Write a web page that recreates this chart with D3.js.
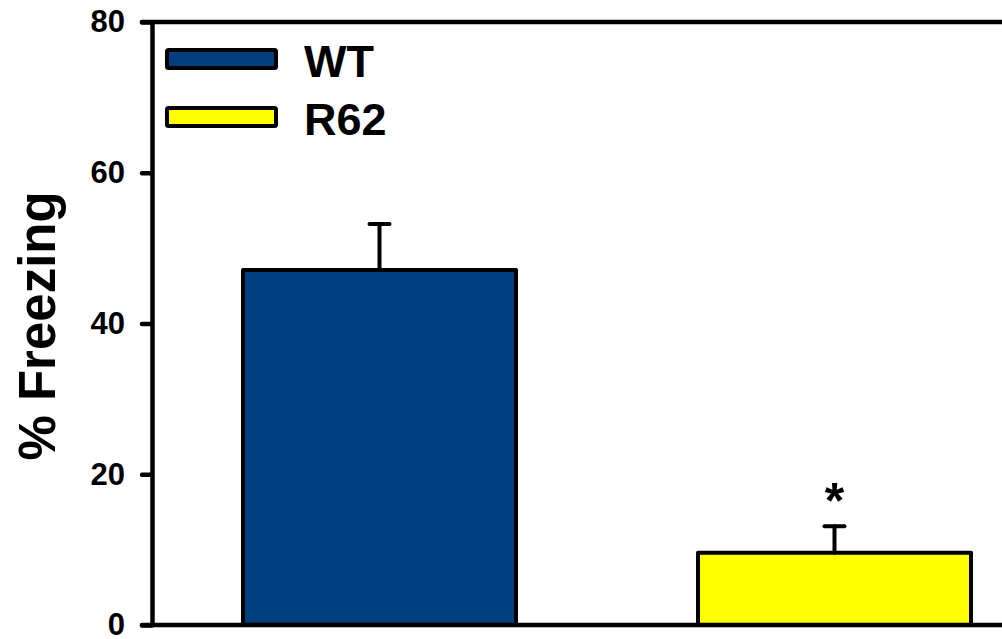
<!DOCTYPE html>
<html>
<head>
<meta charset="utf-8">
<script src="https://cdn.jsdelivr.net/npm/d3@7"></script>
<style>
  html, body { margin: 0; padding: 0; background: #fff; }
  svg { display: block; }
  text { font-family: "Liberation Sans", Arial, sans-serif; font-weight: bold; fill: #000; }
</style>
</head>
<body>
<svg id="chart" width="1002" height="639"></svg>
<script>
// Fear conditioning: percent time freezing by genotype (mean ± SEM)
const groups = ["WT", "R62"];
const meanFreezing = [47.1, 9.6];
const semFreezing = [6.1, 3.5];
const significance = ["", "*"];
const barColors = ["#003f7f", "#ffff00"];
const yTicks = [0, 20, 40, 60, 80];
const yLabel = "% Freezing";

(function () {
  const svg = d3.select("#chart");
  const plotLeft = 152, plotRight = 1062, plotTop = 22, plotBottom = 625;
  const lineW = 4.5;

  const y = d3.scaleLinear().domain([0, 80]).range([plotBottom, plotTop]);
  const x = d3.scaleBand().domain(groups).range([plotLeft, plotRight])
    .paddingInner(0.4).paddingOuter(0.2);

  const rows = groups.map((g, i) => ({
    group: g, mean: meanFreezing[i], sem: semFreezing[i],
    color: barColors[i], mark: significance[i]
  }));

  // Bars
  svg.append("g").selectAll("rect").data(rows).join("rect")
    .attr("x", d => x(d.group))
    .attr("y", d => y(d.mean))
    .attr("width", x.bandwidth())
    .attr("height", d => y(0) - y(d.mean))
    .attr("fill", d => d.color)
    .attr("stroke", "#000")
    .attr("stroke-width", 4)
    .attr("stroke-linejoin", "round");

  // Upper error bars
  const err = svg.append("g").attr("stroke", "#000").attr("stroke-width", 4)
    .attr("stroke-linecap", "round");
  rows.forEach(d => {
    const cx = x(d.group) + x.bandwidth() / 2;
    err.append("line").attr("x1", cx).attr("x2", cx)
      .attr("y1", y(d.mean)).attr("y2", y(d.mean + d.sem));
    err.append("line").attr("x1", cx - 10).attr("x2", cx + 10)
      .attr("y1", y(d.mean + d.sem)).attr("y2", y(d.mean + d.sem));
  });

  // Significance markers
  svg.append("g").selectAll("text").data(rows.filter(d => d.mark)).join("text")
    .attr("x", d => x(d.group) + x.bandwidth() / 2)
    .attr("y", d => y(d.mean + d.sem) - 8)
    .attr("text-anchor", "middle")
    .attr("font-size", 50)
    .text(d => d.mark);

  // Frame: top and bottom lines
  const frame = svg.append("g").attr("stroke", "#000").attr("stroke-width", lineW)
    .attr("stroke-linecap", "round");
  frame.append("line").attr("x1", plotLeft - 10).attr("x2", plotRight)
    .attr("y1", y(80)).attr("y2", y(80));
  frame.append("line").attr("x1", plotLeft - 10).attr("x2", plotRight)
    .attr("y1", y(0)).attr("y2", y(0));

  // Y axis
  const yAxis = svg.append("g").attr("transform", `translate(${plotLeft},0)`)
    .call(d3.axisLeft(y).tickValues(yTicks).tickSize(10).tickSizeOuter(0).tickPadding(17));
  yAxis.select(".domain").attr("stroke", "#000").attr("stroke-width", lineW);
  yAxis.selectAll(".tick line").attr("stroke", "#000").attr("stroke-width", lineW)
    .attr("stroke-linecap", "round");
  yAxis.selectAll(".tick text")
    .attr("font-family", "Liberation Sans, Arial, sans-serif")
    .attr("font-weight", "bold")
    .attr("font-size", 31)
    .attr("fill", "#000");

  // Y axis title
  svg.append("text")
    .attr("transform", "rotate(-90)")
    .attr("x", -326)
    .attr("y", 55)
    .attr("text-anchor", "middle")
    .attr("font-size", 51)
    .text(yLabel);

  // Legend
  const legend = svg.append("g");
  rows.forEach((d, i) => {
    const ly = 50 + i * 58;
    legend.append("rect")
      .attr("x", 167).attr("y", ly).attr("width", 109).attr("height", 18)
      .attr("rx", 1.5)
      .attr("fill", d.color).attr("stroke", "#000").attr("stroke-width", 4);
    legend.append("text")
      .attr("x", 304).attr("y", ly + 27)
      .attr("font-size", 45)
      .text(d.group);
  });
})();
</script>
</body>
</html>
